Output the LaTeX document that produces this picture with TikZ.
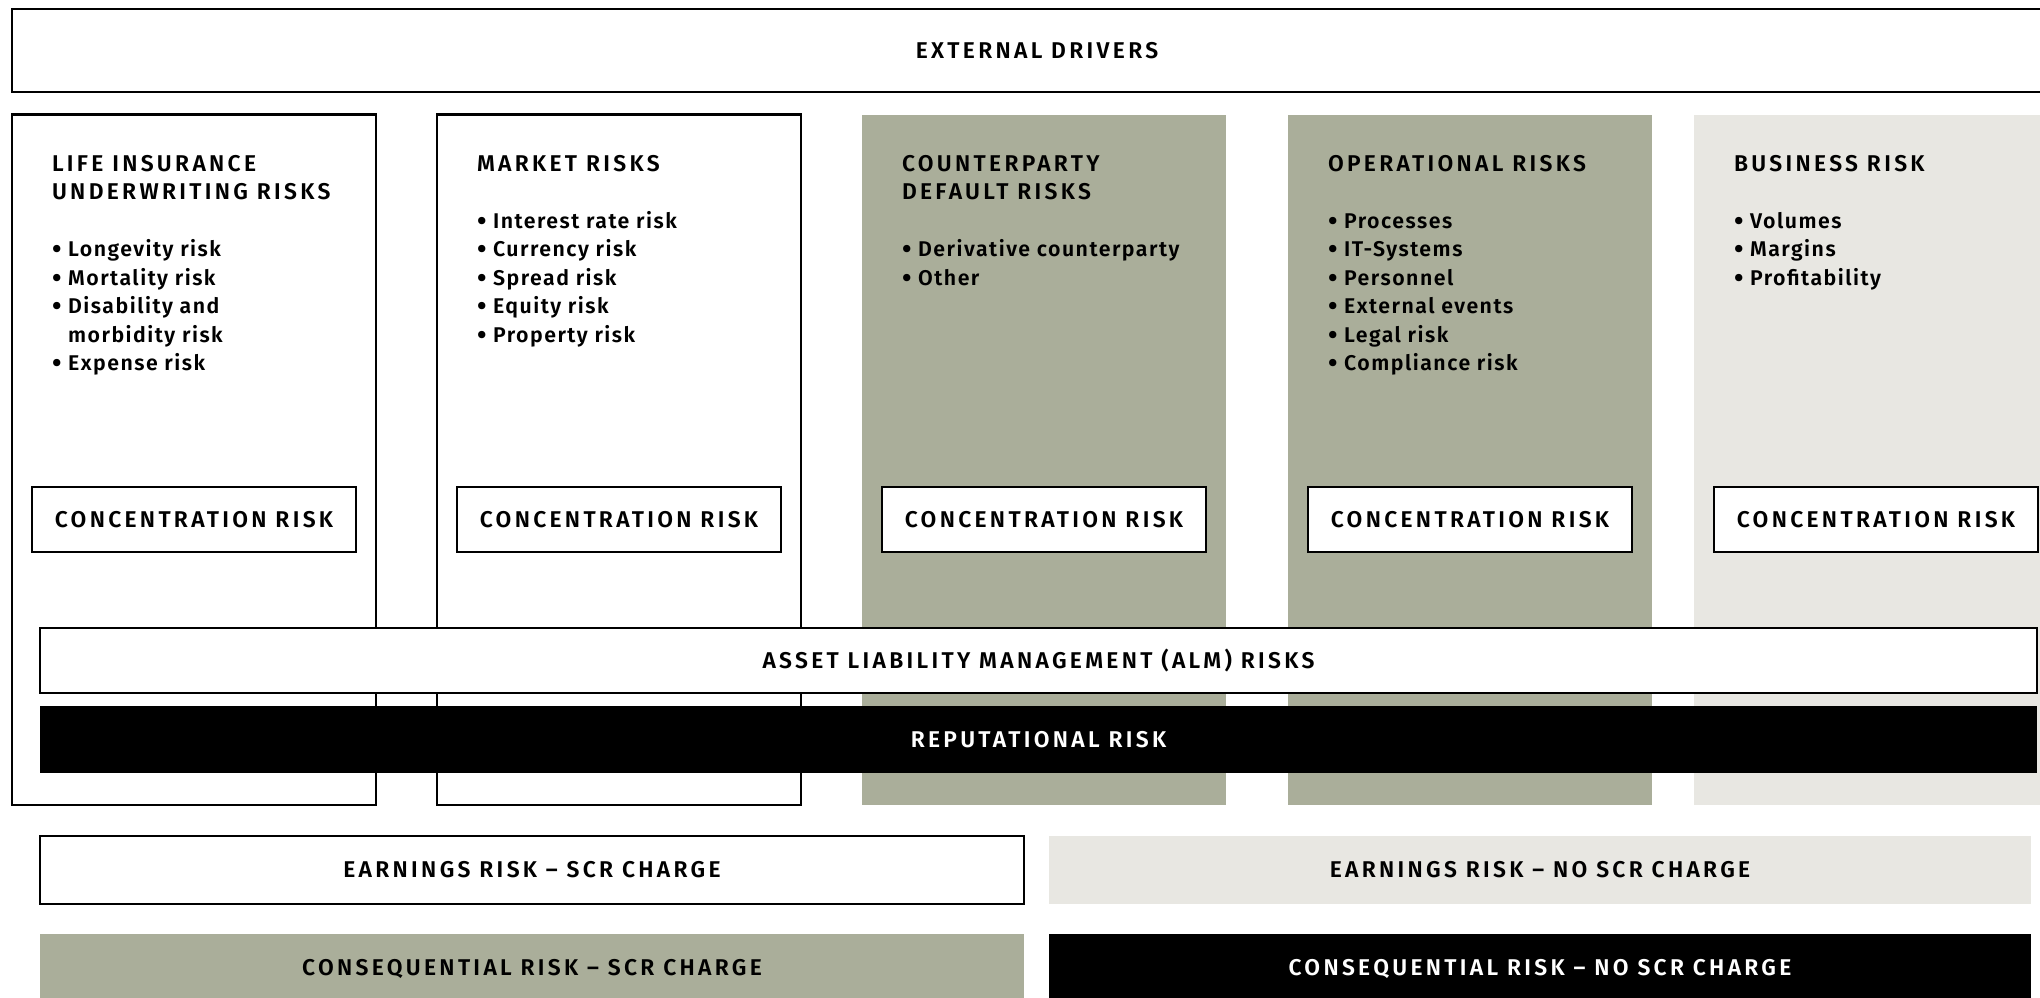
\documentclass[tikz,border=0pt]{standalone}
\usepackage{fontspec}
\IfFontExistsTF{Fira Sans SemiBold}{%
  \setmainfont{Fira Sans}[UprightFont={* SemiBold}, LetterSpace=7]%
  \newfontfamily\capsfam{Fira Sans SemiBold}[LetterSpace=14.5]%
}{%
  \IfFontExistsTF{Fira Sans Medium}{%
    \setmainfont{Fira Sans}[UprightFont={* Medium}, LetterSpace=8]%
    \newfontfamily\capsfam{Fira Sans Medium}[LetterSpace=15]%
  }{%
    \setmainfont{Fira Sans}[LetterSpace=8]%
    \newfontfamily\capsfam{Fira Sans}[LetterSpace=15]%
  }%
}
\definecolor{sage}{HTML}{AAAE9A}
\definecolor{lightgrey}{HTML}{E8E7E2}
\newcommand{\capsfont}{\capsfam\fontsize{22.8}{28.5}\selectfont}
\newcommand{\bulfont}{\fontsize{21.3}{28.5}\selectfont}
\newcommand{\bul}{\raisebox{-2pt}{\scalebox{1.3}{•}}}
\tikzset{
  every node/.style={inner sep=0pt, outer sep=0pt},
  frame/.style={draw=black, line width=2.6pt},
  colbox/.style={anchor=north west, minimum width=364pt, minimum height=690.5pt},
  conbox/.style={frame, fill=white, minimum width=324pt, minimum height=65pt, font=\capsfont},
  coltext/.style={anchor=north west, align=left, font=\bulfont},
  band/.style={minimum width=1997pt, font=\capsfont},
  halfband/.style={minimum height=68pt, font=\capsfont}
}
\begin{document}
\begin{tikzpicture}[x=1pt, y=-1pt]
\useasboundingbox (0,0) rectangle (2040,998);
\clip (0,0) rectangle (2040,998);

% external drivers
\node[frame, fill=white, minimum width=2050pt, minimum height=83pt, font=\capsfont] (ext) at (1037,50.5) {EXTERNAL DRIVERS};

% columns
\node[colbox, frame, fill=white] (c1) at (12,114.5) {};
\node[colbox, frame, fill=white] (c2) at (437,114.5) {};
\node[colbox, fill=sage] (c3) at (862,114.5) {};
\node[colbox, fill=sage] (c4) at (1288,114.5) {};
\node[colbox, fill=lightgrey, minimum width=400pt] (c5) at (1694,114.5) {};

% column texts (first baseline at y = 171)
\node[coltext] (t1) at (52,151.05) {{\capsfont\strut LIFE INSURANCE}\\{\capsfont UNDERWRITING RISKS}\\[28.5pt]
  \bul{} Longevity risk\\\bul{} Mortality risk\\\bul{} Disability and\\\phantom{\bul{} }morbidity risk\\\bul{} Expense risk};
\node[coltext] (t2) at (477,151.05) {{\capsfont\strut MARKET RISKS}\\[28.5pt]
  \bul{} Interest rate risk\\\bul{} Currency risk\\\bul{} Spread risk\\\bul{} Equity risk\\\bul{} Property risk};
\node[coltext] (t3) at (902,151.05) {{\capsfont\strut COUNTERPARTY}\\{\capsfont DEFAULT RISKS}\\[28.5pt]
  \bul{} Derivative counterparty\\\bul{} Other};
\node[coltext] (t4) at (1328,151.05) {{\capsfont\strut OPERATIONAL RISKS}\\[28.5pt]
  \bul{} Processes\\\bul{} IT-Systems\\\bul{} Personnel\\\bul{} External events\\\bul{} Legal risk\\\bul{} Compliance risk};
\node[coltext] (t5) at (1734,151.05) {{\capsfont\strut BUSINESS RISK}\\[28.5pt]
  \bul{} Volumes\\\bul{} Margins\\\bul{} Profitability};

% concentration boxes
\node[conbox] (k1) at (194,519.5) {CONCENTRATION RISK};
\node[conbox] (k2) at (619,519.5) {CONCENTRATION RISK};
\node[conbox] (k3) at (1044,519.5) {CONCENTRATION RISK};
\node[conbox] (k4) at (1470,519.5) {CONCENTRATION RISK};
\node[conbox] (k5) at (1876,519.5) {CONCENTRATION RISK};

% ALM and reputational
\node[band, frame, fill=white, minimum height=65pt] (alm) at (1038.5,660.5) {ASSET LIABILITY MANAGEMENT (ALM) RISKS};
\node[band, fill=black, text=white, minimum height=67pt] (rep) at (1038.5,739.5) {REPUTATIONAL RISK};

% bottom bands
\node[halfband, frame, fill=white, minimum width=984pt] (es) at (532,870) {EARNINGS RISK – SCR CHARGE};
\node[halfband, fill=lightgrey, minimum width=982pt] (en) at (1540,870) {EARNINGS RISK – NO SCR CHARGE};
\node[halfband, fill=sage, minimum width=984pt, minimum height=70pt] (cs) at (532,969) {CONSEQUENTIAL RISK – SCR CHARGE};
\node[halfband, fill=black, text=white, minimum width=982pt, minimum height=70pt] (cn) at (1540,969) {CONSEQUENTIAL RISK – NO SCR CHARGE};
\end{tikzpicture}
\end{document}
